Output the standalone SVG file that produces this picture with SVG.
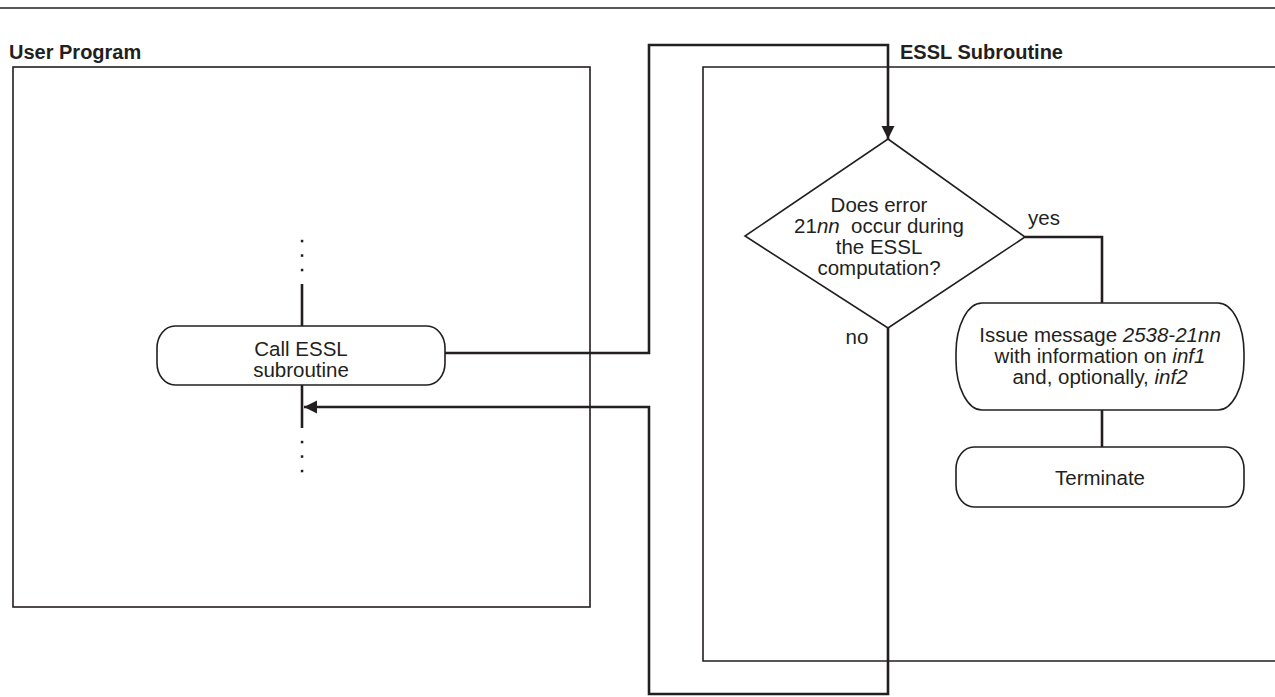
<svg xmlns="http://www.w3.org/2000/svg" width="1275" height="697" viewBox="0 0 1275 697">
<style>
.box{fill:none;stroke:#231f20;stroke-width:1.6}
.node{fill:#fff;stroke:#231f20;stroke-width:1.6}
.con{fill:none;stroke:#231f20;stroke-width:2.6}
.t{font-family:"Liberation Sans",Arial,sans-serif;font-size:20.5px;fill:#231f20;text-anchor:middle}
.h{font-family:"Liberation Sans",Arial,sans-serif;font-size:20px;font-weight:bold;fill:#231f20}
.dot{fill:#231f20}
</style>
<defs>
<marker id="arr" viewBox="0 0 14 14" refX="13" refY="7" markerWidth="14" markerHeight="14" markerUnits="userSpaceOnUse" orient="auto">
<path d="M0,0.5 L13,7 L0,13.5 Z" fill="#231f20"/>
</marker>
</defs>
<rect width="1275" height="697" fill="#fff"/>
<line x1="0" y1="8" x2="1275" y2="8" stroke="#231f20" stroke-width="1.6"/>

<g id="user-program">
<text class="h" x="9" y="59">User Program</text>
<rect class="box" x="13" y="67" width="577" height="540"/>
</g>

<g id="essl-subroutine">
<text class="h" x="900" y="59">ESSL Subroutine</text>
<path class="box" d="M1275,67 H703 V661 H1275"/>
</g>

<g id="connectors">
<line class="con" x1="302" y1="284" x2="302" y2="326"/>
<line class="con" x1="302" y1="385" x2="302" y2="428"/>
<path class="con" d="M445,353 H649 V45 H888 V139" marker-end="url(#arr)"/>
<path class="con" d="M1025,237 H1102 V303"/>
<line class="con" x1="1102" y1="410" x2="1102" y2="447"/>
<path class="con" d="M888,328 V694 H649 V407 H304" marker-end="url(#arr)"/>
<text class="t" x="1044" y="225">yes</text>
<text class="t" x="857" y="344">no</text>
</g>

<g id="dots-above">
<rect class="dot" x="300.8" y="239.8" width="2.5" height="2.5"/>
<rect class="dot" x="300.8" y="254.3" width="2.5" height="2.5"/>
<rect class="dot" x="300.8" y="268.8" width="2.5" height="2.5"/>
</g>
<g id="dots-below">
<rect class="dot" x="300.8" y="440.8" width="2.5" height="2.5"/>
<rect class="dot" x="300.8" y="455.3" width="2.5" height="2.5"/>
<rect class="dot" x="300.8" y="469.8" width="2.5" height="2.5"/>
</g>

<g id="call-essl">
<rect class="node" x="157" y="326" width="288" height="59" rx="18" ry="22"/>
<text class="t" x="301" y="356">Call ESSL</text>
<text class="t" x="301" y="377">subroutine</text>
</g>

<g id="decision">
<polygon class="node" points="888,139 1025,237 888,328 745,236"/>
<text class="t" x="879" y="212">Does error</text>
<text class="t" x="879" y="233">21<tspan font-style="italic">nn</tspan>&#160; occur during</text>
<text class="t" x="879" y="254">the ESSL</text>
<text class="t" x="879" y="275">computation?</text>
</g>

<g id="issue-message">
<rect class="node" x="956" y="303" width="288" height="107" rx="26" ry="50"/>
<text class="t" x="1100" y="342">Issue message <tspan font-style="italic">2538-21nn</tspan></text>
<text class="t" x="1100" y="363">with information on <tspan font-style="italic">inf1</tspan></text>
<text class="t" x="1100" y="384">and, optionally, <tspan font-style="italic">inf2</tspan></text>
</g>

<g id="terminate">
<rect class="node" x="956" y="447" width="288" height="60" rx="18" ry="22"/>
<text class="t" x="1100" y="485">Terminate</text>
</g>
</svg>
